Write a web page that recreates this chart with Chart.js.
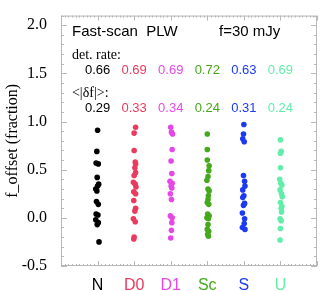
<!DOCTYPE html>
<html>
<head>
<meta charset="utf-8">
<script src="https://cdn.jsdelivr.net/npm/chart.js@4/dist/chart.umd.min.js"></script>
<style>
  html, body { margin: 0; padding: 0; background: #fff; }
  #wrap { width: 327px; height: 291px; }
</style>
</head>
<body>
<div id="wrap"><canvas id="mainChart"></canvas></div>
<script>
// categories and their colours
const categories = ['N', 'D0', 'D1', 'Sc', 'S', 'U'];
const catColors = ['#000000', '#ea3a5e', '#e648e6', '#46a81c', '#1c3af2', '#62eeaa'];
const detRate = ['0.66', '0.69', '0.69', '0.72', '0.63', '0.69'];
const meanDf = ['0.29', '0.33', '0.34', '0.24', '0.31', '0.24'];
const yTicks = [-0.5, 0.0, 0.5, 1.0, 1.5, 2.0];

// f_offset values read per category, with small horizontal jitter (category units)
const offN  = [0.91, 0.69, 0.57, 0.56, 0.42, 0.35, 0.33, 0.30, 0.28, 0.17, 0.14, 0.04, 0.03, -0.02, -0.05, -0.07, -0.25];
const jitN  = [0.00, -0.02, -0.04, 0.02, -0.01, 0.03, 0.00, -0.05, -0.02, -0.03, 0.02, -0.04, 0.01, -0.05, 0.02, -0.01, 0.04];
const offD0 = [0.94, 0.88, 0.70, 0.58, 0.56, 0.52, 0.47, 0.44, 0.37, 0.35, 0.32, 0.27, 0.25, 0.18, 0.10, 0.07, -0.01, -0.04, -0.20, -0.22];
const jitD0 = [0.04, 0.00, 0.00, 0.03, 0.04, 0.02, 0.04, 0.00, -0.02, 0.03, 0.05, -0.01, 0.04, -0.01, 0.04, 0.02, -0.02, 0.03, 0.00, -0.01];
const offD1 = [0.94, 0.89, 0.87, 0.71, 0.59, 0.46, 0.38, 0.36, 0.33, 0.31, 0.25, 0.19, 0.02, 0.00, -0.05, -0.13, -0.21];
const jitD1 = [0.00, 0.02, 0.05, 0.04, 0.01, 0.03, -0.02, 0.04, 0.01, 0.03, -0.01, 0.02, -0.01, 0.04, 0.03, 0.02, 0.00];
const offSc = [0.87, 0.71, 0.60, 0.54, 0.49, 0.43, 0.39, 0.30, 0.28, 0.23, 0.19, 0.16, 0.14, 0.04, 0.02, 0.00, -0.01, -0.07, -0.12, -0.14, -0.17, -0.19];
const jitSc = [0.00, 0.00, 0.00, 0.05, 0.04, 0.02, -0.01, 0.02, 0.05, 0.03, 0.02, 0.00, 0.04, 0.01, 0.05, -0.01, 0.03, 0.02, 0.00, 0.04, 0.01, 0.03];
const offS  = [0.97, 0.87, 0.82, 0.79, 0.44, 0.38, 0.33, 0.29, 0.23, 0.21, 0.15, 0.13, 0.05, -0.01, -0.06, -0.10, -0.12];
const jitS  = [0.00, -0.01, -0.03, 0.01, -0.01, 0.02, 0.03, -0.03, 0.00, -0.03, 0.02, -0.01, -0.04, 0.02, 0.01, -0.04, 0.03];
const offU  = [0.81, 0.69, 0.67, 0.52, 0.40, 0.36, 0.34, 0.29, 0.25, 0.22, 0.16, 0.12, 0.10, 0.06, -0.01, -0.03, -0.11, -0.23];
const jitU  = [0.00, 0.02, 0.00, 0.00, -0.02, 0.01, 0.04, -0.01, 0.03, 0.05, 0.00, 0.04, 0.02, 0.03, -0.01, 0.02, 0.00, -0.01];

const offsets = [offN, offD0, offD1, offSc, offS, offU];
const jitters = [jitN, jitD0, jitD1, jitSc, jitS, jitU];

const datasets = categories.map((name, i) => ({
    label: name,
    data: offsets[i].map((v, k) => ({ x: i + 1 + jitters[i][k], y: v })),
    backgroundColor: catColors[i],
    borderColor: catColors[i],
    pointRadius: 2.8,
    pointBorderWidth: 0
}));

const serif = '"Liberation Serif", "DejaVu Serif", serif';
const sans = '"Liberation Sans", Arial, sans-serif';

// frame, inward ticks and the text block inside the plot
const decorations = {
    id: 'decorations',
    afterDraw(chart) {
        const ctx = chart.ctx;
        const a = chart.chartArea;
        const xs = chart.scales.x, ys = chart.scales.y;
        ctx.save();
        ctx.strokeStyle = '#b8b8b8';
        ctx.lineWidth = 1;
        ctx.strokeRect(a.left + 0.5, a.top + 0.5, a.right - a.left - 1, a.bottom - a.top - 1);

        ctx.beginPath();
        // y minor/major ticks on both sides
        for (let t = -5; t <= 21; t++) {
            const y = Math.round(ys.getPixelForValue(t / 10)) + 0.5;
            const len = (t % 5 === 0) ? 6 : 3;
            ctx.moveTo(a.left, y); ctx.lineTo(a.left + len, y);
            ctx.moveTo(a.right, y); ctx.lineTo(a.right - len, y);
        }
        // x minor/major ticks top and bottom
        for (let t = 0; t <= 70; t++) {
            const x = Math.round(xs.getPixelForValue(t / 10)) + 0.5;
            const len = (t % 10 === 0) ? 5 : 2;
            ctx.moveTo(x, a.bottom); ctx.lineTo(x, a.bottom - len);
            ctx.moveTo(x, a.top); ctx.lineTo(x, a.top + len);
        }
        ctx.stroke();

        // y title
        ctx.fillStyle = '#000';
        ctx.font = '16px ' + serif;
        ctx.textAlign = 'center';
        ctx.textBaseline = 'middle';
        ctx.translate(13, (a.top + a.bottom) / 2);
        ctx.rotate(-Math.PI / 2);
        ctx.fillText('f_offset (fraction)', 0, 0);
        ctx.restore();

        ctx.save();
        ctx.textBaseline = 'middle';
        ctx.fillStyle = '#000';
        ctx.font = '15px ' + sans;
        ctx.textAlign = 'left';
        ctx.fillText('Fast-scan  PLW', xs.getPixelForValue(0.3), ys.getPixelForValue(1.93));
        ctx.fillText('f=30 mJy', xs.getPixelForValue(4.32), ys.getPixelForValue(1.93));
        ctx.font = '14px ' + serif;
        ctx.fillText('det. rate:', xs.getPixelForValue(0.3), ys.getPixelForValue(1.69));
        ctx.fillText('<|\u03b4f|>:', xs.getPixelForValue(0.3), ys.getPixelForValue(1.29));
        ctx.font = '13px ' + sans;
        ctx.textAlign = 'center';
        categories.forEach((c, i) => {
            ctx.fillStyle = catColors[i];
            ctx.fillText(detRate[i], xs.getPixelForValue(i + 1), ys.getPixelForValue(1.53));
            ctx.fillText(meanDf[i], xs.getPixelForValue(i + 1), ys.getPixelForValue(1.14));
        });
        ctx.restore();
    }
};

new Chart(document.getElementById('mainChart'), {
    type: 'scatter',
    data: { datasets: datasets },
    options: {
        responsive: true,
        maintainAspectRatio: false,
        animation: false,
        layout: { padding: { top: 1, right: 10, left: 0, bottom: 0 } },
        plugins: {
            legend: { display: false },
            tooltip: { enabled: false }
        },
        scales: {
            x: {
                type: 'linear',
                min: 0,
                max: 7,
                grid: { display: false },
                border: { display: false },
                afterBuildTicks: (scale) => {
                    scale.ticks = categories.map((c, i) => ({ value: i + 1 }));
                },
                afterFit: (scale) => { scale.height = 25; },
                ticks: {
                    padding: 2,
                    maxRotation: 0,
                    autoSkip: false,
                    font: { family: sans, size: 16 },
                    color: (ctx) => catColors[Math.round(ctx.tick.value) - 1] || '#000',
                    callback: (v) => categories[Math.round(v) - 1] || ''
                }
            },
            y: {
                min: -0.5,
                max: 2.1,
                grid: { display: false },
                border: { display: false },
                afterBuildTicks: (scale) => {
                    scale.ticks = yTicks.map(v => ({ value: v }));
                },
                afterFit: (scale) => { scale.width = 61; },
                ticks: {
                    padding: 6,
                    color: '#000',
                    font: { family: serif, size: 16 },
                    callback: (v) => v.toFixed(1)
                }
            }
        }
    },
    plugins: [decorations]
});
</script>
</body>
</html>
